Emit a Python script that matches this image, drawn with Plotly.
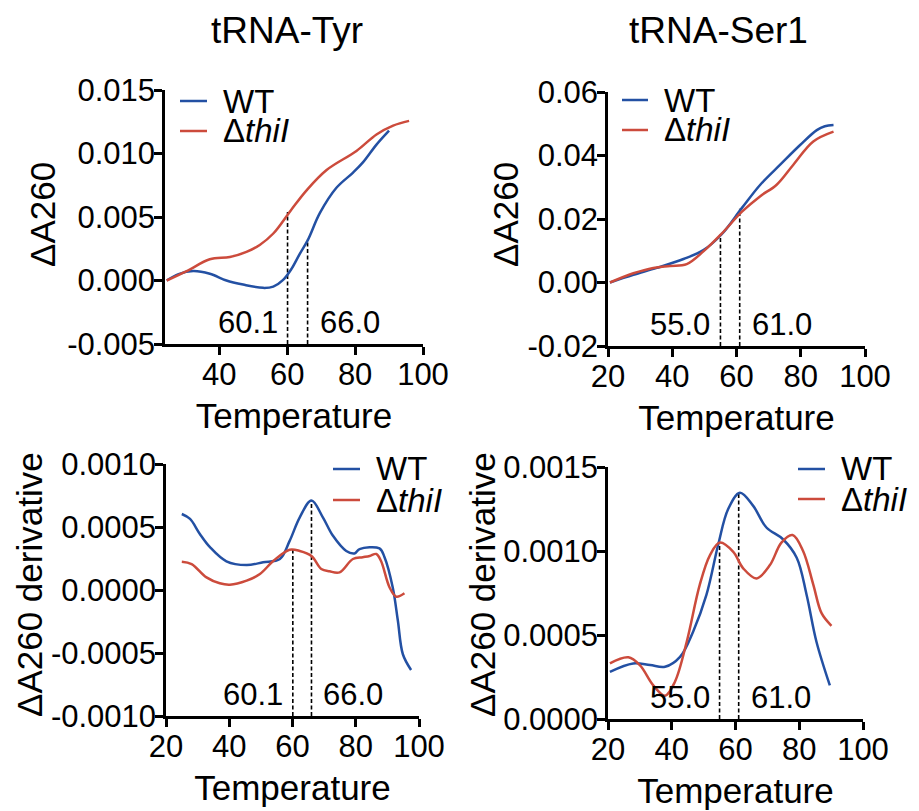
import plotly.graph_objects as go

# the page body has an 8px default margin; figure is sized to fit the 919x811 window
OFF = 8
W, H = 919 - OFF, 811 - OFF
BLUE = "#2350a3"
RED = "#cc4b3c"
FONT = "Liberation Sans, Arial, sans-serif"

# ---------------- data ----------------
# tRNA-Tyr, melting curve (ΔA260)
tyr_wt_t = [24.5, 28, 32.3, 37.2, 42.1, 47, 52.9, 55.9, 58.8, 61.3, 63.7, 66.1, 69.6, 74.5, 79.4, 82.3, 86.3, 90]
tyr_wt_a = [0, 0.0005, 0.00074, 0.00053, 0.0, -0.00032, -0.00058, -0.00048, 0.00005, 0.00093,
            0.0021, 0.0032, 0.0053, 0.0073, 0.0085, 0.0093, 0.0107, 0.0118]
tyr_ko_t = [24.5, 30.4, 37.2, 43.1, 48, 51.9, 55.9, 61, 65.7, 71.6, 80.4, 86.3, 91.2, 95.9]
tyr_ko_a = [0, 0.00074, 0.00167, 0.00185, 0.00225, 0.0028, 0.0037, 0.0055, 0.0071, 0.0087,
            0.0102, 0.0115, 0.0122, 0.01257]

# tRNA-Ser1, melting curve (ΔA260)
ser_wt_t = [20.6, 27.9, 35.2, 43.5, 49.7, 55.4, 61.7, 67.4, 73.6, 79.8, 85, 87.5, 90.2]
ser_wt_a = [0, 0.0024, 0.0046, 0.0074, 0.0102, 0.0152, 0.0235, 0.0308, 0.0371, 0.0433, 0.048, 0.0492, 0.0496]
ser_ko_t = [20.6, 27.9, 34.1, 39.3, 44.5, 49.7, 55.4, 61.7, 67.4, 72.5, 77.7, 83.9, 90.2]
ser_ko_a = [0, 0.0029, 0.0046, 0.0052, 0.0058, 0.0098, 0.0154, 0.0223, 0.0272, 0.0308, 0.0371, 0.0444, 0.0475]

# tRNA-Tyr, derivative
tyrd_wt_t = [25, 27.6, 30.7, 33.9, 39.1, 45.5, 50.7, 56, 59.1, 62.3, 66, 69.6, 72.8, 77, 79.6,
             81.2, 87.5, 89.1, 91.7, 93.3, 94.9, 97.5]
tyrd_wt_a = [0.000603, 0.000564, 0.000445, 0.00034, 0.000228, 0.000198, 0.00022, 0.000246, 0.00039,
             0.000577, 0.00071, 0.000577, 0.00043, 0.00031, 0.00029, 0.000325, 0.00033, 0.00026,
             0.00002, -0.00024, -0.00051, -0.000635]
tyrd_ko_t = [25, 28.1, 32.8, 37, 40.2, 45.5, 49.7, 53.9, 59.1, 62.3, 66, 69.1, 71.7, 74.9, 79.1,
             82.2, 84.4, 86.5, 88, 90.7, 92.8, 95.4]
tyrd_ko_a = [0.000225, 0.000206, 0.0001, 0.000053, 0.000042, 0.000074, 0.000127, 0.00023, 0.00032,
             0.00031, 0.00027, 0.000167, 0.000148, 0.00014, 0.000246, 0.00026, 0.00027, 0.000286,
             0.00023, 0.00002, -0.000053, -0.000026]

# tRNA-Ser1, derivative
serd_wt_t = [20.6, 27.9, 33.2, 37.9, 42.6, 46.7, 50.9, 54.6, 57.7, 61.4, 65.5, 69.7, 74.9, 79.2, 82.3, 85.4, 89.6]
serd_wt_a = [0.000281, 0.000331, 0.000321, 0.000311, 0.00037, 0.00052, 0.00074, 0.00104, 0.00125,
             0.001347, 0.00127, 0.00114, 0.00107, 0.00096, 0.00074, 0.00046, 0.0002]
serd_ko_t = [20.6, 26.4, 30, 34.2, 37.9, 41, 44.7, 48.8, 52, 55.1, 59.3, 62.4, 66.6, 70.8, 74.4,
             77.9, 81.2, 84.4, 87, 90.1]
serd_ko_a = [0.000331, 0.000367, 0.00032, 0.0002, 0.000139, 0.000222, 0.00046, 0.0008, 0.000976,
             0.00105, 0.000995, 0.000897, 0.000837, 0.000916, 0.00105, 0.001095, 0.001, 0.0008,
             0.00063, 0.000555]

# melting temperatures and heights of the dashed markers
tyr_tm = [60.1, 66.0]
tyr_tm_top = [0.0054, 0.0032]
tyrd_tm_top = [0.00032, 0.00071]
ser_tm = [55.0, 61.0]
ser_tm_top = [0.0153, 0.0232]
serd_tm_top = [0.00105, 0.00135]
tm_labels_tyr = ["60.1", "66.0"]
tm_labels_ser = ["55.0", "61.0"]

# tick labels
x_ticks_tyr = [40, 60, 80, 100]
x_ticks = [20, 40, 60, 80, 100]
y1_ticks = [-0.005, 0.0, 0.005, 0.010, 0.015]
y1_text = ["-0.005", "0.000", "0.005", "0.010", "0.015"]
y2_ticks = [-0.02, 0.0, 0.02, 0.04, 0.06]
y2_text = ["-0.02", "0.00", "0.02", "0.04", "0.06"]
y3_ticks = [-0.001, -0.0005, 0.0, 0.0005, 0.001]
y3_text = ["-0.0010", "-0.0005", "0.0000", "0.0005", "0.0010"]
y4_ticks = [0.0, 0.0005, 0.001, 0.0015]
y4_text = ["0.0000", "0.0005", "0.0010", "0.0015"]

titles = ["tRNA-Tyr", "tRNA-Ser1"]
series_names = ["WT", "Δ<i>thiI</i>"]


def fx(p):
    return (p - OFF) / W


def fy(p):
    return 1 - (p - OFF) / H


# ---------------- figure ----------------
fig = go.Figure()

panels = [
    dict(xd=(165, 423), yd=(90, 344), xr=[24, 100], yr=[-0.005, 0.015], xt=x_ticks_tyr,
         yt=y1_ticks, ytt=y1_text, ytitle="ΔA260", ytpos=(43, 215), wt=(tyr_wt_t, tyr_wt_a),
         ko=(tyr_ko_t, tyr_ko_a), tm=tyr_tm, top=tyr_tm_top, lab=tm_labels_tyr,
         leg=(180, 207, 101, 131)),
    dict(xd=(608, 865), yd=(92, 346), xr=[20, 100], yr=[-0.02, 0.06], xt=x_ticks,
         yt=y2_ticks, ytt=y2_text, ytitle="ΔA260", ytpos=(506, 215), wt=(ser_wt_t, ser_wt_a),
         ko=(ser_ko_t, ser_ko_a), tm=ser_tm, top=ser_tm_top, lab=tm_labels_ser,
         leg=(622, 648, 100, 130)),
    dict(xd=(166, 419), yd=(464, 716), xr=[20, 100], yr=[-0.001, 0.001], xt=x_ticks,
         yt=y3_ticks, ytt=y3_text, ytitle="ΔA260 derivative", ytpos=(29, 585),
         wt=(tyrd_wt_t, tyrd_wt_a), ko=(tyrd_ko_t, tyrd_ko_a), tm=tyr_tm, top=tyrd_tm_top,
         lab=tm_labels_tyr, leg=(333, 360, 469, 500)),
    dict(xd=(608, 863), yd=(467, 719), xr=[20, 100], yr=[0, 0.0015], xt=x_ticks,
         yt=y4_ticks, ytt=y4_text, ytitle="ΔA260 derivative", ytpos=(482, 585),
         wt=(serd_wt_t, serd_wt_a), ko=(serd_ko_t, serd_ko_a), tm=ser_tm, top=serd_tm_top,
         lab=tm_labels_ser, leg=(798, 825, 469, 499)),
]

axis_common = dict(showline=True, linecolor="black", linewidth=2.5, ticks="outside",
                   ticklen=8, tickwidth=2.5, tickcolor="black", showgrid=False, zeroline=False,
                   tickfont=dict(family=FONT, size=31, color="black"), automargin=False,
                   ticklabelstandoff=-7)

annotations = []
shapes = []
for i, p in enumerate(panels, start=1):
    xa = "x" if i == 1 else f"x{i}"
    ya = "y" if i == 1 else f"y{i}"
    xkey = "xaxis" if i == 1 else f"xaxis{i}"
    ykey = "yaxis" if i == 1 else f"yaxis{i}"
    fig.update_layout({
        xkey: dict(domain=[fx(p["xd"][0]), fx(p["xd"][1])], range=p["xr"], anchor=ya,
                   tickvals=p["xt"], ticktext=[str(v) for v in p["xt"]],
                   title=dict(text="Temperature", font=dict(family=FONT, size=35, color="black"),
                              standoff=13),
                   **axis_common),
        ykey: dict(domain=[fy(p["yd"][1]), fy(p["yd"][0])], range=p["yr"], anchor=xa,
                   tickvals=p["yt"], ticktext=p["ytt"],
                   **axis_common),
    })
    # y-axis title (placed as rotated text to match the reference position)
    annotations.append(dict(x=fx(p["ytpos"][0]), y=fy(p["ytpos"][1]), xref="paper", yref="paper",
                            text=p["ytitle"], textangle=-90, xanchor="center", yanchor="middle",
                            showarrow=False, font=dict(family=FONT, size=35, color="black")))
    # dashed Tm markers
    for tm, top in zip(p["tm"], p["top"]):
        fig.add_trace(go.Scatter(x=[tm, tm], y=[p["yr"][0], top], mode="lines", xaxis=xa, yaxis=ya,
                                 line=dict(color="black", width=1.6, dash="4px,2.5px"),
                                 showlegend=False, hoverinfo="skip"))
    # curves
    fig.add_trace(go.Scatter(x=p["wt"][0], y=p["wt"][1], mode="lines", xaxis=xa, yaxis=ya,
                             name="WT", line=dict(color=BLUE, width=2.5, shape="spline", smoothing=1),
                             showlegend=False))
    fig.add_trace(go.Scatter(x=p["ko"][0], y=p["ko"][1], mode="lines", xaxis=xa, yaxis=ya,
                             name="ΔthiI", line=dict(color=RED, width=2.5, shape="spline", smoothing=1),
                             showlegend=False))
    # Tm labels
    annotations.append(dict(x=p["tm"][0], y=0.085, xref=xa, yref=f"{ya} domain", text=p["lab"][0],
                            xanchor="right", yanchor="middle", xshift=-8, showarrow=False,
                            font=dict(family=FONT, size=31, color="black")))
    annotations.append(dict(x=p["tm"][1], y=0.085, xref=xa, yref=f"{ya} domain", text=p["lab"][1],
                            xanchor="left", yanchor="middle", xshift=10, showarrow=False,
                            font=dict(family=FONT, size=31, color="black")))
    # legend (manual, to match compact spacing)
    x0, x1, yw, yk = p["leg"]
    for yy, col, name in [(yw, BLUE, series_names[0]), (yk, RED, series_names[1])]:
        shapes.append(dict(type="line", xref="paper", yref="paper", x0=fx(x0), x1=fx(x1),
                           y0=fy(yy), y1=fy(yy), line=dict(color=col, width=2.5)))
        annotations.append(dict(x=fx(x1 + 14), y=fy(yy), xref="paper", yref="paper", text=name,
                                xanchor="left", yanchor="middle", showarrow=False,
                                font=dict(family=FONT, size=33, color="black")))

# panel titles
for t, cx in zip(titles, [287, 718]):
    annotations.append(dict(x=fx(cx), y=fy(30), xref="paper", yref="paper", text=t,
                            xanchor="center", yanchor="middle", showarrow=False,
                            font=dict(family=FONT, size=37, color="black")))

fig.update_layout(width=W, height=H, margin=dict(l=0, r=0, t=0, b=0),
                  paper_bgcolor="white", plot_bgcolor="white",
                  annotations=annotations, shapes=shapes, showlegend=False)

fig.write_html("out.html")
